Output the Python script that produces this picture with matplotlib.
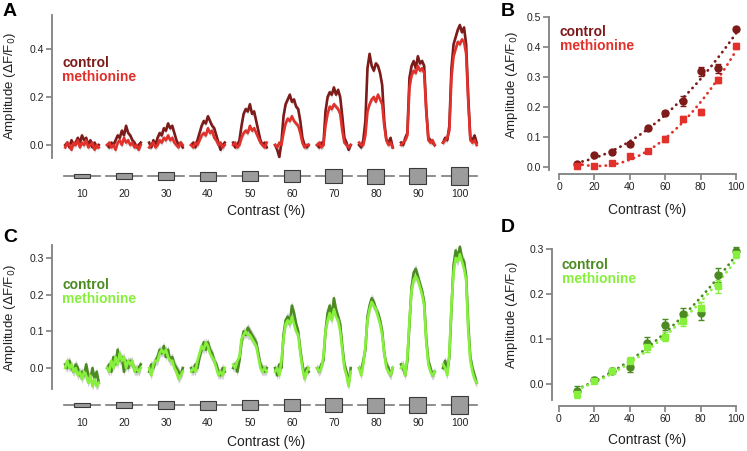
import numpy as np
import matplotlib
matplotlib.use('Agg')
import matplotlib.pyplot as plt
from matplotlib.patches import Rectangle

plt.rcParams['font.family'] = ['Liberation Sans', 'DejaVu Sans']

# stimulus contrasts (%)
contrast = [10, 20, 30, 40, 50, 60, 70, 80, 90, 100]

# ---- panel A: mean traces, one list per contrast (17 samples per sweep)
a_control = [
    [0.0, 0.01, -0.01, 0.02, 0.0, 0.01, 0.03, 0.01, 0.04, 0.02, 0.03, 0.0, 0.02, -0.01, 0.01, -0.01, 0.0],
    [0.0, -0.01, 0.01, 0.0, 0.02, 0.04, 0.03, 0.06, 0.04, 0.08, 0.05, 0.04, 0.02, 0.01, -0.01, 0.0, 0.01],
    [0.01, -0.01, 0.02, 0.0, 0.03, 0.05, 0.04, 0.07, 0.06, 0.09, 0.07, 0.08, 0.05, 0.02, 0.0, 0.01, -0.01],
    [0.0, 0.01, -0.01, 0.02, 0.05, 0.08, 0.10, 0.09, 0.12, 0.10, 0.08, 0.07, 0.04, 0.01, -0.02, 0.0, 0.01],
    [0.01, -0.01, 0.0, 0.02, 0.08, 0.13, 0.15, 0.14, 0.17, 0.13, 0.14, 0.10, 0.06, 0.02, 0.0, 0.01, -0.01],
    [0.0, -0.02, -0.05, 0.01, 0.12, 0.17, 0.19, 0.21, 0.18, 0.19, 0.16, 0.15, 0.10, 0.03, 0.0, -0.01, 0.0],
    [0.0, -0.01, 0.01, 0.0, 0.14, 0.20, 0.22, 0.21, 0.24, 0.21, 0.23, 0.20, 0.12, 0.03, 0.01, -0.02, 0.0],
    [0.0, -0.01, 0.02, 0.10, 0.32, 0.38, 0.33, 0.31, 0.34, 0.33, 0.30, 0.25, 0.10, 0.02, 0.01, 0.03, -0.01],
    [0.01, 0.0, 0.03, 0.05, 0.28, 0.33, 0.35, 0.32, 0.37, 0.34, 0.35, 0.33, 0.15, 0.03, 0.02, 0.01, 0.0],
    [0.01, 0.03, 0.02, 0.08, 0.32, 0.42, 0.45, 0.48, 0.50, 0.47, 0.49, 0.42, 0.20, 0.03, 0.02, 0.04, 0.01],
]
a_methionine = [
    [-0.01, 0.01, 0.0, -0.02, 0.01, 0.0, 0.02, -0.01, 0.01, 0.0, 0.02, -0.01, 0.0, 0.01, -0.02, 0.0, -0.01],
    [0.0, 0.01, -0.01, 0.0, -0.02, 0.01, 0.02, 0.0, 0.03, 0.01, 0.02, 0.0, 0.01, -0.01, 0.0, -0.02, 0.0],
    [-0.01, 0.0, 0.01, -0.01, 0.0, 0.02, 0.01, 0.03, 0.02, 0.04, 0.02, 0.03, 0.01, 0.0, -0.01, 0.01, 0.0],
    [0.0, -0.01, 0.01, 0.0, 0.02, 0.04, 0.05, 0.04, 0.07, 0.05, 0.06, 0.03, 0.02, 0.0, 0.01, -0.01, 0.0],
    [0.0, 0.01, -0.01, 0.0, 0.03, 0.05, 0.06, 0.05, 0.08, 0.06, 0.07, 0.05, 0.03, 0.01, 0.0, -0.01, 0.01],
    [0.0, -0.01, 0.01, 0.0, 0.05, 0.09, 0.11, 0.10, 0.12, 0.10, 0.09, 0.08, 0.05, 0.01, -0.01, 0.0, 0.0],
    [0.0, 0.01, -0.01, 0.0, 0.08, 0.13, 0.16, 0.15, 0.17, 0.16, 0.15, 0.13, 0.06, 0.01, 0.0, -0.01, 0.0],
    [0.01, 0.0, 0.0, 0.04, 0.14, 0.17, 0.19, 0.20, 0.18, 0.21, 0.19, 0.17, 0.08, 0.02, 0.0, 0.01, -0.01],
    [0.0, 0.01, 0.02, 0.04, 0.24, 0.29, 0.31, 0.30, 0.33, 0.31, 0.32, 0.30, 0.14, 0.02, 0.01, 0.02, 0.0],
    [0.01, 0.02, 0.03, 0.06, 0.28, 0.37, 0.40, 0.43, 0.42, 0.44, 0.43, 0.38, 0.18, 0.02, 0.01, 0.02, 0.0],
]

# ---- panel C
c_control = [
    [0.01, 0.0, 0.02, 0.0, -0.01, 0.01, 0.0, -0.02, -0.01, -0.02, 0.01, -0.02, -0.03, 0.0, -0.03, -0.01, -0.04],
    [0.0, 0.01, -0.01, 0.03, 0.01, 0.05, 0.02, 0.03, -0.01, 0.02, 0.0, 0.02, 0.01, 0.0, -0.01, 0.0, 0.01],
    [-0.01, 0.01, 0.0, 0.02, 0.03, 0.05, 0.04, 0.06, 0.03, 0.05, 0.02, 0.03, 0.01, 0.0, -0.01, -0.02, 0.0],
    [0.0, -0.01, 0.01, 0.0, 0.03, 0.05, 0.07, 0.05, 0.07, 0.05, 0.04, 0.02, 0.01, -0.01, -0.02, 0.0, -0.01],
    [0.0, 0.01, -0.01, 0.02, 0.07, 0.10, 0.09, 0.11, 0.10, 0.09, 0.08, 0.07, 0.04, 0.01, 0.0, -0.01, 0.0],
    [0.0, -0.02, 0.01, 0.0, 0.09, 0.13, 0.14, 0.12, 0.17, 0.15, 0.12, 0.10, 0.05, 0.01, -0.02, 0.0, -0.01],
    [0.0, -0.01, 0.01, 0.02, 0.10, 0.15, 0.17, 0.14, 0.19, 0.16, 0.14, 0.12, 0.06, 0.01, -0.01, -0.04, 0.0],
    [0.0, -0.01, 0.02, 0.05, 0.14, 0.17, 0.19, 0.18, 0.16, 0.15, 0.13, 0.10, 0.04, 0.01, 0.0, -0.02, 0.0],
    [0.01, 0.0, -0.02, 0.02, 0.12, 0.22, 0.26, 0.27, 0.25, 0.23, 0.21, 0.18, 0.08, 0.02, 0.0, -0.02, -0.01],
    [0.0, 0.02, -0.01, 0.03, 0.16, 0.28, 0.32, 0.30, 0.33, 0.30, 0.29, 0.25, 0.12, 0.03, 0.0, -0.02, -0.04],
]
c_methionine = [
    [0.0, 0.02, 0.0, 0.01, -0.01, 0.0, -0.02, -0.01, -0.03, -0.01, -0.02, -0.04, -0.02, -0.05, -0.03, -0.05, -0.04],
    [0.0, -0.01, 0.02, 0.0, 0.03, 0.01, 0.04, 0.02, 0.03, 0.0, 0.02, 0.01, 0.02, -0.01, 0.0, -0.01, 0.0],
    [0.0, -0.02, 0.01, 0.02, 0.02, 0.04, 0.05, 0.04, 0.05, 0.03, 0.02, 0.02, 0.0, -0.01, -0.03, -0.02, -0.01],
    [-0.01, 0.0, -0.01, 0.02, 0.04, 0.06, 0.05, 0.07, 0.06, 0.04, 0.03, 0.02, 0.0, -0.02, -0.01, -0.02, 0.0],
    [0.01, 0.0, 0.02, 0.03, 0.08, 0.09, 0.10, 0.09, 0.09, 0.08, 0.07, 0.06, 0.03, 0.0, -0.01, 0.0, -0.01],
    [-0.01, 0.0, -0.02, 0.02, 0.08, 0.12, 0.13, 0.12, 0.14, 0.12, 0.10, 0.09, 0.04, 0.0, -0.03, -0.01, 0.0],
    [0.0, -0.01, 0.0, 0.03, 0.10, 0.13, 0.15, 0.13, 0.16, 0.14, 0.13, 0.10, 0.05, 0.0, -0.02, -0.05, -0.01],
    [0.0, -0.02, 0.01, 0.06, 0.13, 0.16, 0.18, 0.17, 0.16, 0.14, 0.12, 0.09, 0.04, 0.0, -0.01, -0.02, 0.0],
    [0.0, 0.01, -0.02, 0.03, 0.13, 0.21, 0.24, 0.25, 0.24, 0.22, 0.20, 0.17, 0.07, 0.01, -0.01, -0.02, -0.01],
    [0.01, 0.0, -0.02, 0.04, 0.17, 0.26, 0.30, 0.29, 0.31, 0.29, 0.27, 0.24, 0.10, 0.02, -0.01, -0.03, -0.04],
]
trace_sem = 0.012

# ---- panel B: mean amplitude vs contrast
b_control = [0.010, 0.040, 0.050, 0.077, 0.130, 0.180, 0.220, 0.320, 0.330, 0.460]
b_control_err = [0.005, 0.005, 0.005, 0.006, 0.008, 0.008, 0.018, 0.015, 0.015, 0.008]
b_methionine = [0.003, 0.003, 0.015, 0.037, 0.052, 0.095, 0.160, 0.185, 0.290, 0.405]
b_methionine_err = [0.005, 0.004, 0.005, 0.006, 0.006, 0.010, 0.010, 0.010, 0.010, 0.010]

# ---- panel D
d_control = [-0.015, 0.010, 0.030, 0.037, 0.092, 0.132, 0.155, 0.158, 0.242, 0.295]
d_control_err = [0.010, 0.005, 0.005, 0.010, 0.012, 0.012, 0.015, 0.015, 0.015, 0.010]
d_methionine = [-0.022, 0.007, 0.030, 0.052, 0.082, 0.105, 0.140, 0.170, 0.217, 0.290]
d_methionine_err = [0.010, 0.005, 0.005, 0.008, 0.010, 0.010, 0.010, 0.012, 0.015, 0.010]

red_dark = '#7d1a1a'
red = '#e2302a'
green_dark = '#4b8b22'
green = '#86f03c'
spine_col = '#808080'
txt_col = '#222222'

W, H = 747, 451
fig = plt.figure(figsize=(W / 100, H / 100), dpi=100)


def box(l, t, r, b):
    # pixel rectangle -> figure fraction
    return [l / W, 1 - b / H, (r - l) / W, (b - t) / H]


def ftext(x, y, s, **kw):
    kw.setdefault('ha', 'left')
    kw.setdefault('va', 'center')
    fig.text(x / W, 1 - y / H, s, **kw)


seg_offsets = np.arange(-4, 4.01, 0.5)
trace_xlim = (2.86, 104.8)
ylab = r'Amplitude ($\Delta$F/F$_0$)'


def trace_panel(rect, stim_rect, ctrl, meth, col1, col2, ylim, yticks):
    ax = fig.add_axes(box(*rect))
    for tr in (ctrl, meth):
        for k, c in enumerate(contrast):
            y = np.array(tr[k])
            ax.fill_between(c + seg_offsets, y - trace_sem, y + trace_sem,
                            color='#d0d0d0', lw=0)
    for tr, col in ((ctrl, col1), (meth, col2)):
        for k, c in enumerate(contrast):
            ax.plot(c + seg_offsets, tr[k], color=col, lw=1.9)
    ax.set_xlim(*trace_xlim)
    ax.set_ylim(*ylim)
    for s in ('top', 'right', 'bottom'):
        ax.spines[s].set_visible(False)
    ax.spines['left'].set_color(spine_col)
    ax.spines['left'].set_linewidth(1.3)
    ax.set_xticks([])
    ax.set_yticks(yticks)
    ax.set_yticklabels(['%.1f' % v for v in yticks])
    ax.tick_params(axis='y', colors=spine_col, labelcolor=txt_col,
                   labelsize=7.5, length=4, width=1.2, pad=2)

    # stimulus row
    st = fig.add_axes(box(*stim_rect))
    for c in contrast:
        st.plot([c - 4.2, c + 4.2], [0, 0], color='#7a7a7a', lw=1.2)
        h = 3 + 0.15 * c
        st.add_patch(Rectangle((c - 2, -h / 2), 4, h, fc='#9c9c9c',
                               ec='#3a3a3a', lw=0.8, zorder=3))
    st.set_xlim(*trace_xlim)
    st.set_ylim(-12, 12)
    for s in st.spines.values():
        s.set_visible(False)
    st.set_yticks([])
    st.set_xticks(contrast)
    st.set_xticklabels([str(c) for c in contrast])
    st.tick_params(axis='x', length=0, labelsize=7.5, labelcolor=txt_col, pad=1)
    return ax


def scatter_panel(rect, xlim, ylim, ybounds, yticks, sets):
    ax = fig.add_axes(box(*rect))
    xs = np.array(contrast, dtype=float)
    xf = np.linspace(10, 100, 80)
    for vals, err, col, mk in sets:
        p = np.polyfit(xs, vals, 2)
        ax.plot(xf, np.polyval(p, xf), color=col, lw=2,
                ls=(0, (0.1, 2.0)), dash_capstyle='round')
    for vals, err, col, mk in sets:
        ax.errorbar(xs, vals, yerr=err, fmt=mk, color=col, mec=col, ms=5,
                    capsize=2.5, elinewidth=1, capthick=1)
    ax.set_xlim(*xlim)
    ax.set_ylim(*ylim)
    for s in ('top', 'right'):
        ax.spines[s].set_visible(False)
    for s in ('left', 'bottom'):
        ax.spines[s].set_color(spine_col)
        ax.spines[s].set_linewidth(1.3)
    ax.spines['left'].set_bounds(*ybounds)
    ax.spines['bottom'].set_bounds(0, 100)
    ax.set_xticks([0, 20, 40, 60, 80, 100])
    ax.set_yticks(yticks)
    ax.set_yticklabels(['%.1f' % v for v in yticks])
    ax.tick_params(colors=spine_col, labelcolor=txt_col, labelsize=7.5,
                   length=4, width=1.2, pad=2)
    return ax


trace_panel((52, 15, 480, 158), (52, 164, 480, 188), a_control, a_methionine,
            red_dark, red, (-0.054, 0.542), [0.0, 0.2, 0.4])
trace_panel((52, 245, 480, 389), (52, 393, 480, 417), c_control, c_methionine,
            green_dark, green, (-0.057, 0.335), [0.0, 0.1, 0.2, 0.3])

scatter_panel((549, 15, 740, 174), (-5.65, 102.26), (-0.0233, 0.5067),
              (-0.01, 0.5), [0.0, 0.1, 0.2, 0.3, 0.4, 0.5],
              [(b_control, b_control_err, red_dark, 'o'),
               (b_methionine, b_methionine_err, red, 's')])
scatter_panel((552, 245, 740, 406), (-3.95, 102.26), (-0.0489, 0.309),
              (-0.036, 0.3), [0.0, 0.1, 0.2, 0.3],
              [(d_control, d_control_err, green_dark, 'o'),
               (d_methionine, d_methionine_err, green, 's')])

# panel letters
for x, y, s in ((10, 12, 'A'), (508, 12, 'B'), (10, 237, 'C'), (508, 228, 'D')):
    ftext(x, y, s, ha='center', fontsize=14, fontweight='bold')

# axis labels
for x, y in ((10, 86), (512, 85), (10, 318), (512, 315)):
    ftext(x, y, ylab, ha='center', rotation=90, fontsize=9.5, color=txt_col)
for x, y in ((266, 211), (647, 210), (266, 442), (647, 440)):
    ftext(x, y, 'Contrast (%)', ha='center', fontsize=10, color=txt_col)

# in-panel legends
for x, y, c1, c2 in ((62, 63, red_dark, red), (560, 32, red_dark, red),
                     (62, 285, green_dark, green), (562, 265, green_dark, green)):
    ftext(x, y, 'control', color=c1, fontsize=10, fontweight='bold')
    ftext(x, y + 14, 'methionine', color=c2, fontsize=10, fontweight='bold')

fig.savefig('out.png', dpi=100)
